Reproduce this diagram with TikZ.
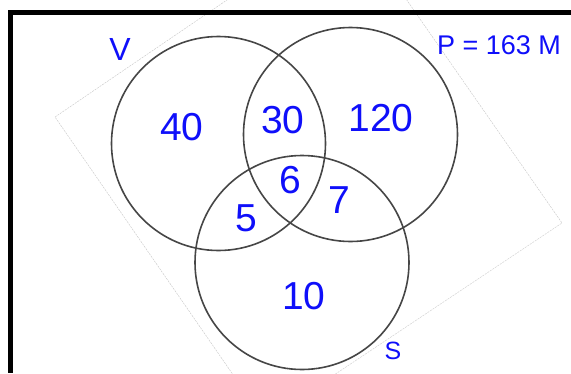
\documentclass[tikz,border=0pt]{standalone}
\usepackage{fontspec}
\setmainfont{Liberation Sans}
\definecolor{ink}{RGB}{15,15,250}
\definecolor{ring}{RGB}{70,70,70}
\tikzset{
  setring/.style={circle, draw=ring, line width=1.6pt, minimum size=214pt, inner sep=0pt},
  num/.style={text=ink, font=\fontsize{39}{39}\selectfont, inner sep=0pt},
  setlabel/.style={text=ink, font=\fontsize{32}{32}\selectfont, inner sep=0pt},
  frameline/.style={fill=black},
  faint/.style={draw=gray!45, line width=0.4pt, dash pattern=on 2pt off 1pt}
}
\begin{document}
\begin{tikzpicture}[x=1pt,y=-1pt]
\useasboundingbox (0,0) rectangle (571,373);
\fill[white] (0,0) rectangle (571,373);
\begin{scope}
\clip (0,0) rectangle (571,373);
\draw[faint] (55,117) -- (349,-83) -- (562,223) -- (265,421) -- cycle;
\end{scope}
\fill[frameline] (8,10) rectangle (571,15);
\fill[frameline] (8,10) rectangle (13,373);
\node[setring] (V) at (218.5,143.5) {};
\node[setring] (P) at (350.5,134.5) {};
\node[setring] (S) at (302,262.5) {};
\node[setlabel] (lV) at (120,49) {V};
\node[setlabel, font=\fontsize{27}{27}\selectfont] (lP) at (499,45) {P = 163 M};
\node[setlabel, font=\fontsize{25}{25}\selectfont] (lS) at (393,351) {S};
\node[num] (n40) at (182,127) {40};
\node[num] (n30) at (283,120) {30};
\node[num] (n120) at (381,118) {120};
\node[num] (n6) at (290,180) {6};
\node[num] (n5) at (246,218) {5};
\node[num] (n7) at (339,200) {7};
\node[num] (n10) at (304,296) {10};
\end{tikzpicture}
\end{document}
